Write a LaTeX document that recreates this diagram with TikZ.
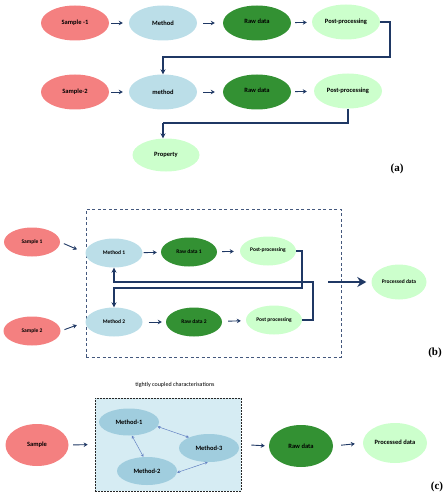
\documentclass[tikz,border=0pt]{standalone}
\usepackage{fontspec}
\setmainfont{Carlito}
\newfontfamily\labfont{Liberation Serif}
\usetikzlibrary{shapes.geometric,arrows.meta,calc}
\definecolor{salmon}{RGB}{244,128,128}
\definecolor{lblue}{RGB}{187,222,232}
\definecolor{dgreen}{RGB}{51,145,51}
\definecolor{lgreen}{RGB}{204,255,204}
\definecolor{navy}{RGB}{31,56,100}
\definecolor{slate}{RGB}{68,88,125}
\definecolor{cblue}{RGB}{160,205,222}
\definecolor{cboxfill}{RGB}{214,236,243}
\definecolor{darrow}{RGB}{100,130,195}
\tikzset{
  ell/.style={ellipse, inner sep=0pt, font=\bfseries\fontsize{6.5}{7}\selectfont},
  ellb/.style={ellipse, inner sep=0pt, minimum width=56pt, minimum height=29pt, font=\bfseries\fontsize{5.5}{6}\selectfont},
  ella/.style={ell, minimum width=68pt, minimum height=35pt},
  sred/.style={fill=salmon},
  sblue/.style={fill=lblue},
  sdg/.style={fill=dgreen},
  slg/.style={fill=lgreen},
  arr/.style={-{Stealth[length=4pt,width=4.5pt]}, navy, line width=0.9pt},
  conn/.style={navy, line width=1.2pt},
  connarr/.style={conn, -{Stealth[length=5pt,width=5pt]}},
  darr/.style={{Stealth[length=3pt,width=3pt]}-{Stealth[length=3pt,width=3pt]}, darrow, line width=0.5pt},
  panel/.style={font=\labfont\bfseries\fontsize{11}{12}\selectfont}
}
\begin{document}
\begin{tikzpicture}[x=1pt,y=-1pt]
\useasboundingbox (0,0) rectangle (445,500);
% ---------------- (a)
\node[ella,sred] (s1) at (75,23) {Sample -1};
\node[ella,sblue] (m1) at (163,23) {Method};
\node[ella,sdg] (r1) at (257,23) {\raisebox{4pt}{Raw data}};
\node[ella,slg] (p1) at (346,22) {Post-processing};
\node[ella,sred] (s2) at (75,92) {Sample-2};
\node[ella,sblue] (m2) at (163,92) {method};
\node[ella,sdg] (r2) at (257,92) {\raisebox{3pt}{Raw data}};
\node[ella,slg] (p2) at (348,91) {Post-processing};
\node[ell,slg,minimum width=67pt,minimum height=33pt] (pr) at (166,155) {Property};
\draw[arr,shorten <=2pt,shorten >=6pt] (s1) -- (m1);
\draw[arr,shorten <=6pt,shorten >=8pt] (m1) -- (r1);
\draw[arr,shorten <=4pt,shorten >=5pt] (r1) -- (p1);
\draw[arr,shorten <=2pt,shorten >=6pt] (s2) -- (m2);
\draw[arr,shorten <=6pt,shorten >=8pt] (m2) -- (r2);
\draw[arr,shorten <=4pt,shorten >=7pt] (r2) -- (p2);
\coordinate (a1) at (390,57);
\draw[connarr] (p1.east) -| (a1) -| (m2.north);
\coordinate (a2) at (163,123);
\draw[conn] (p2.south) |- (a2);
\draw[connarr] (a2) -- (a2 |- pr.north);
\node[panel] (la) at (397,169) {(a)};
% ---------------- (b)
\node[draw=slate, dash pattern=on 3pt off 2.5pt, line width=0.8pt, minimum width=255pt, minimum height=148pt, inner sep=0pt] (boxb) at (213.5,283) {};
\node[ellb,sred] (bs1) at (32,242) {Sample 1};
\node[ellb,sblue,minimum width=57pt] (bm1) at (114,253) {Method 1};
\node[ellb,sdg] (br1) at (189,252) {Raw data 1};
\node[ellb,slg] (bp1) at (268,251) {\raisebox{2pt}{Post-processing}};
\node[ellb,sred,minimum width=57pt] (bs2) at (32,331) {Sample 2};
\node[ellb,sblue,minimum width=57pt] (bm2) at (114,322) {Method 2};
\node[ellb,sdg] (br2) at (194,322) {Raw data 2};
\node[ellb,slg] (bp2) at (274,320) {Post processing};
\node[ellb,slg,minimum width=55pt,minimum height=35pt] (bpd) at (399,282) {Processed data};
\draw[arr,shorten <=4pt,shorten >=9pt] (bs1.east) -- (bm1.west);
\draw[arr,shorten <=4pt,shorten >=9pt] (bs2.east) -- (bm2.west);
\draw[arr,shorten <=1pt,shorten >=4pt] (bm1) -- (br1);
\draw[arr,shorten <=5pt,shorten >=6pt] (br1) -- (bp1);
\draw[arr,shorten <=6pt,shorten >=4pt] (bm2) -- (br2);
\draw[arr,shorten <=6pt,shorten >=5pt] (br2) -- (bp2);
\coordinate (b1) at (302,288);
\draw[connarr] (bp1.east) -| (b1) -| (bm2.north);
\coordinate (b2) at (313,282);
\draw[connarr] (bp2.east) -| (b2) -| (bm1.south);
\coordinate (b3) at (328,282);
\draw[navy, line width=2.2pt, -{Stealth[length=9pt,width=10pt]}, shorten >=5pt] (b3) -- (bpd.west);
\node[panel] (lb) at (435,353) {(b)};
% ---------------- (c)
\node[font=\fontsize{6}{7}\selectfont] (title) at (175,385) {tightly coupled characterisations};
\node[draw=black!85, fill=cboxfill, dash pattern=on 2pt off 1pt, line width=0.6pt, minimum width=146pt, minimum height=93pt, inner sep=0pt] (boxc) at (168,444.5) {};
\node[ell,sred,minimum width=63pt,minimum height=42pt] (cs) at (37,445) {Sample};
\node[ell,fill=cblue,minimum width=60pt,minimum height=27pt] (cm1) at (129,422) {Method-1};
\node[ell,fill=cblue,minimum width=60pt,minimum height=28pt] (cm3) at (209,448) {Method-3};
\node[ell,fill=cblue,minimum width=60pt,minimum height=28pt] (cm2) at (147,471) {Method-2};
\node[ell,sdg,minimum width=64pt,minimum height=42pt] (cr) at (301,446) {Raw data};
\node[ell,slg,minimum width=64pt,minimum height=40pt] (cp) at (395,443) {\raisebox{2pt}{Processed data}};
\draw[darr] (cm1.-9) -- (cm3.152);
\draw[darr] (cm1.-78) -- (cm2.104);
\draw[darr] (cm2.-3) -- (cm3.-95);
\draw[arr,shorten <=4.5pt,shorten >=7pt] (cs.east) -- (boxc.west);
\draw[arr,shorten <=10pt,shorten >=4pt] (boxc.east) -- (cr.west);
\draw[arr,shorten <=8pt,shorten >=8pt] (cr.east) -- (cp.west);
\node[panel] (lc) at (437,487) {(c)};
\end{tikzpicture}
\end{document}
